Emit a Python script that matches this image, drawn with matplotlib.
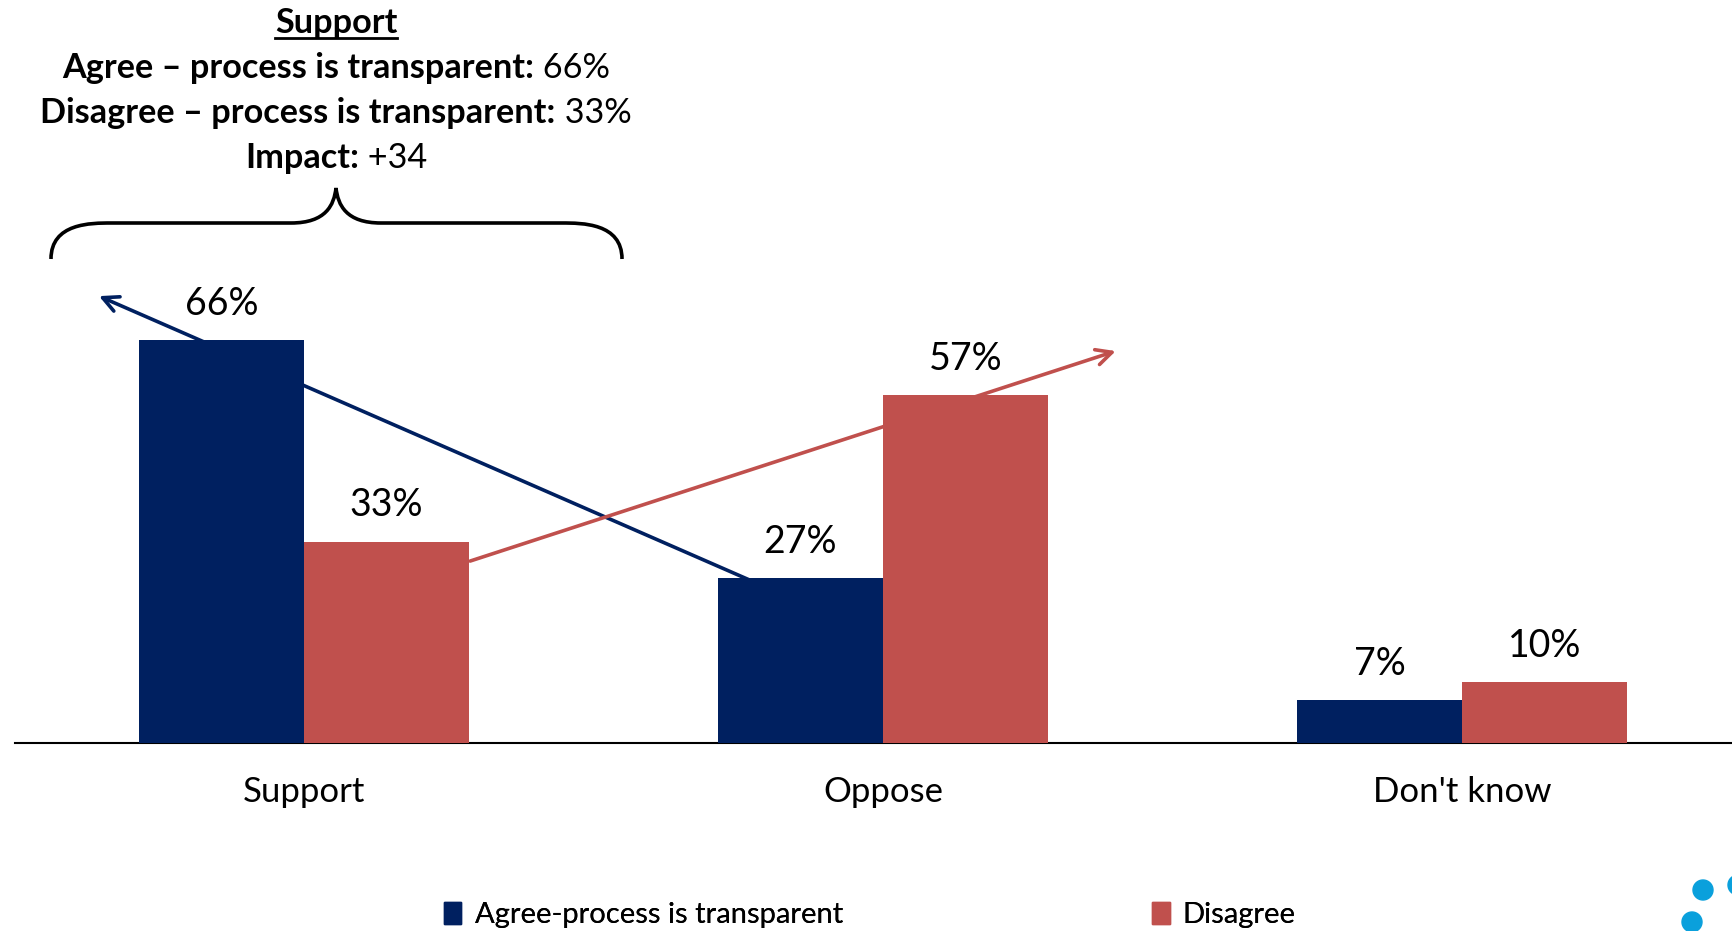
"""
Support / oppose by perceived transparency — grouped bars with trend arrows.
"""
import matplotlib
matplotlib.use("Agg")
import matplotlib.pyplot as plt
import matplotlib.patches as mpatches
from matplotlib.path import Path
import numpy as np

plt.rcParams["font.family"] = ["Lato", "DejaVu Sans"]

categories = ["Support", "Oppose", "Don't know"]
agree = [66, 27, 7]
disagree = [33, 57, 10]
series_names = ["Agree-process is transparent", "Disagree"]

header_title = "Support"
header_lines = [
    ("Agree \u2013 process is transparent:", " 66%"),
    ("Disagree \u2013 process is transparent:", " 33%"),
    ("Impact:", " +34"),
]

NAVY = "#002060"
RED = "#C0504D"

W, H = 1733, 931
fig = plt.figure(figsize=(W / 100, H / 100), dpi=100)
fig.patch.set_facecolor("white")

# axes: baseline at y=743px, left edge at 15px
ax = fig.add_axes([15 / W, 188 / H, 1 - 15 / W, 743 / H])
ax.set_xlim(-0.499, 2.468)
ax.set_ylim(0, 121.7)

x = np.arange(len(categories))
width = 0.285
b1 = ax.bar(x - width / 2, agree, width, color=NAVY, zorder=3)
b2 = ax.bar(x + width / 2, disagree, width, color=RED, zorder=3)

for bars, vals in ((b1, agree), (b2, disagree)):
    for bar, v in zip(bars, vals):
        ax.text(bar.get_x() + bar.get_width() / 2, v + 3.0, f"{v}%",
                ha="center", va="bottom", fontsize=27, color="black", zorder=5)

# trend arrows
ax.annotate("", xy=(-0.354, 73.2), xytext=(0.772, 26.6),
            arrowprops=dict(arrowstyle="->", color=NAVY, lw=2.6,
                            mutation_scale=28, shrinkA=0, shrinkB=0),
            zorder=2, annotation_clip=False)
ax.annotate("", xy=(1.402, 64.2), xytext=(0.287, 29.8),
            arrowprops=dict(arrowstyle="->", color=RED, lw=2.6,
                            mutation_scale=28, shrinkA=0, shrinkB=0),
            zorder=2, annotation_clip=False)

ax.set_xticks(x)
ax.set_xticklabels(categories, fontsize=25)
ax.tick_params(axis="x", length=0, pad=24)
ax.set_yticks([])
for s in ("top", "right", "left"):
    ax.spines[s].set_visible(False)
ax.spines["bottom"].set_color("black")
ax.spines["bottom"].set_linewidth(1.5)
ax.patch.set_alpha(0)

# header block (pixel coords -> figure fractions)
renderer = fig.canvas.get_renderer()
cx = 336
fs = 24.7
t = fig.text(cx / W, 1 - 23 / H, header_title, ha="center", va="center",
             fontsize=fs, fontweight="bold")
bb = t.get_window_extent(renderer)
fig.add_artist(plt.Line2D([bb.x0 / W, bb.x1 / W], [(bb.y0 + 1) / H] * 2,
                          color="black", lw=2, transform=fig.transFigure))

for (bold, reg), ypx in zip(header_lines, [68, 113, 158]):
    tb = fig.text(0, 1 - ypx / H, bold, ha="left", va="center",
                  fontsize=fs, fontweight="bold")
    tr = fig.text(0, 1 - ypx / H, reg, ha="left", va="center", fontsize=fs)
    wb = tb.get_window_extent(renderer).width
    wr = tr.get_window_extent(renderer).width
    x0 = cx - (wb + wr) / 2
    tb.set_x(x0 / W)
    tr.set_x((x0 + wb) / W)

# curly brace
def P(px, py):
    return (px / W, 1 - py / H)

L, R, tip, ymid, yend = 51, 622, 336, 223, 259
verts = [
    P(L, yend), P(L, ymid), P(L + 40, ymid), P(L + 60, ymid),
    P(tip - 45, ymid),
    P(tip - 10, ymid), P(tip - 2, 205), P(tip, 188),
    P(tip + 2, 205), P(tip + 10, ymid), P(tip + 45, ymid),
    P(R - 60, ymid),
    P(R - 40, ymid), P(R, ymid), P(R, yend),
]
codes = [Path.MOVETO, Path.CURVE4, Path.CURVE4, Path.LINETO,
         Path.LINETO,
         Path.CURVE4, Path.CURVE4, Path.CURVE4,
         Path.CURVE4, Path.CURVE4, Path.CURVE4,
         Path.LINETO,
         Path.CURVE4, Path.CURVE4, Path.CURVE4]
brace = mpatches.PathPatch(Path(verts, codes), fill=False, lw=2.6,
                           edgecolor="black", transform=fig.transFigure)
fig.add_artist(brace)

# legend: two entries placed separately
for name, color, px in ((series_names[0], NAVY, 444), (series_names[1], RED, 1152)):
    lg = fig.legend(handles=[mpatches.Patch(color=color, label=name)],
                    loc="center left", bbox_to_anchor=(px / W, 1 - 915 / H),
                    frameon=False, fontsize=21, handlelength=0.6, handleheight=0.75,
                    handletextpad=0.45, borderpad=0, borderaxespad=0)
    fig.add_artist(lg)

# logo dots in the corner
for (px, py, r) in [(1703, 890, 10), (1692, 922, 10), (1738, 885, 10)]:
    fig.add_artist(mpatches.Ellipse(P(px, py), 2 * r / W, 2 * r / H, color="#0AA0DC",
                                    transform=fig.transFigure))

fig.savefig("out.png", dpi=100, facecolor="white")
